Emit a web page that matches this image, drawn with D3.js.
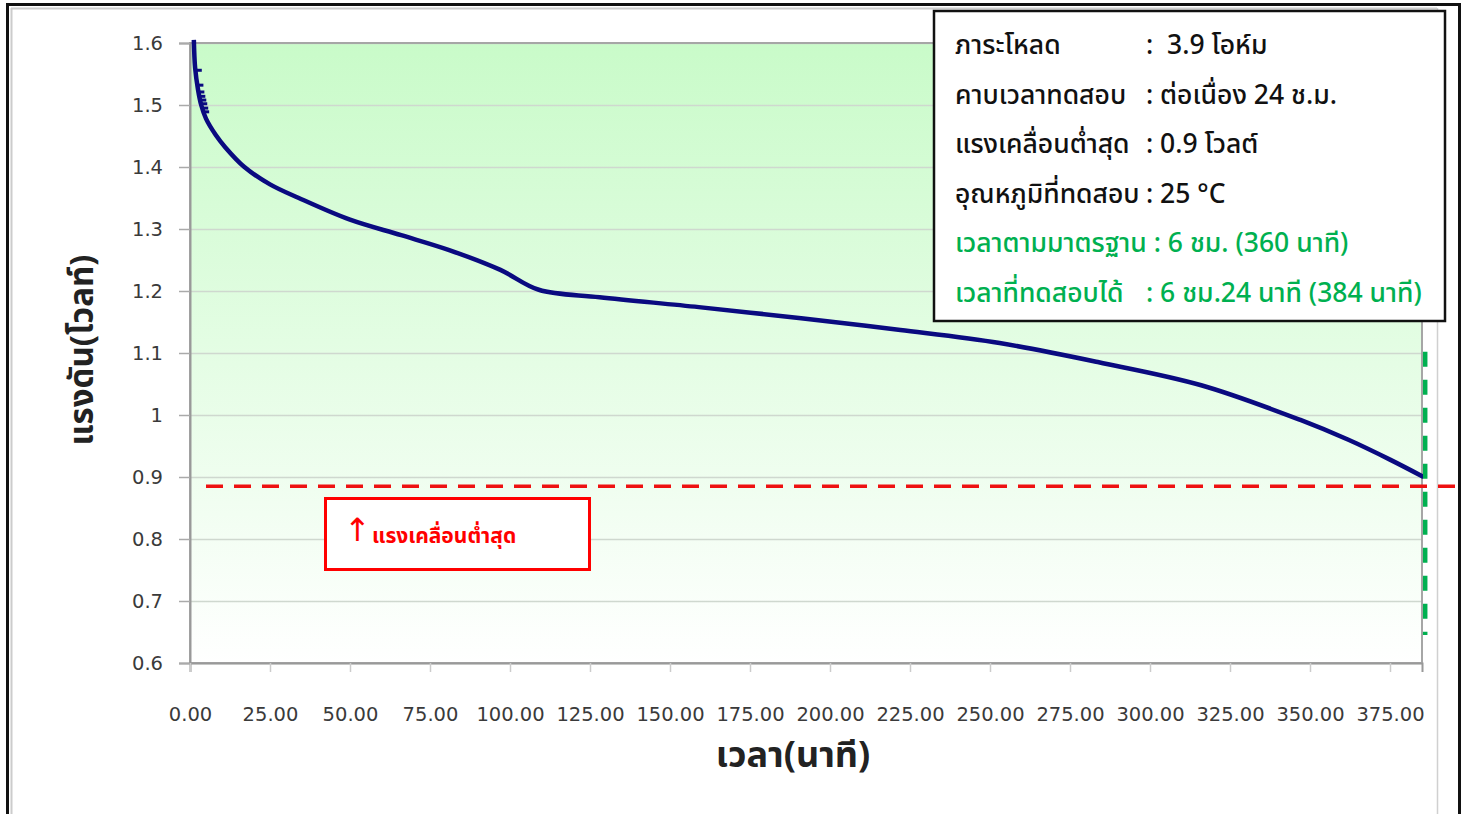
<!DOCTYPE html>
<html lang="th">
<head>
<meta charset="UTF-8">
<title>Discharge curve</title>
<script src="https://d3js.org/d3.v7.min.js"></script>
<style>
    body { margin: 0; background: #fff; }
    .tick text { font-family: "DejaVu Sans", Verdana, sans-serif; font-size: 19.5px; fill: #3a3a3a; }
    .thai { font-family: "Noto Sans Thai", "Noto Sans Thai UI", "Loma", "Tlwg Typist", "Noto Sans", sans-serif; }
</style>
</head>
<body>
<svg width="1466" height="814"></svg>
<script>
// discharge data (minutes, volts)
const timeMin = [1.2, 1.6, 2.5, 3.5, 5, 8, 11, 17, 25, 34, 50, 66, 81, 97, 109, 128, 159, 191, 222, 253, 284, 316, 347, 362, 375, 385.5];
const voltage = [1.605, 1.56, 1.525, 1.50, 1.478, 1.452, 1.432, 1.40, 1.372, 1.350, 1.315, 1.29, 1.266, 1.234, 1.202, 1.19, 1.174, 1.156, 1.137, 1.116, 1.085, 1.048, 0.992, 0.96, 0.928, 0.90];

// little flat steps at the very start of the trace
const stepT = [1.5, 2.0, 2.3, 2.6, 2.9, 3.2, 3.5, 3.8];
const stepV = [1.556, 1.532, 1.521, 1.514, 1.508, 1.502, 1.495, 1.489];

const xTicks = d3.range(0, 376, 25);
const yTicks = [0.6, 0.7, 0.8, 0.9, 1, 1.1, 1.2, 1.3, 1.4, 1.5, 1.6];

const minVolt = 0.885;       // red cut-off line
const testedMin = 386;       // green marker
const greenSpan = [1.102, 0.645];

const infoLabels = ["ภาระโหลด", "คาบเวลาทดสอบ", "แรงเคลื่อนต่ำสุด", "อุณหภูมิที่ทดสอบ", "เวลาตามมาตรฐาน : 6 ชม. (360 นาที)", "เวลาที่ทดสอบได้"];
const infoValues = [":  3.9 โอห์ม", ": ต่อเนื่อง 24 ช.ม.", ": 0.9 โวลต์", ": 25 °C", "", ": 6 ชม.24 นาที (384 นาที)"];
const infoGreen = [false, false, false, false, true, true];

const svg = d3.select("svg");
const W = 1466, H = 814;
const m = {left: 190, right: 1422, top: 43, bottom: 663};

const x = d3.scaleLinear().domain([0, 385]).range([m.left, m.right]);
const y = d3.scaleLinear().domain([0.6, 1.6]).range([m.bottom, m.top]);

// outer frame
svg.append("rect").attr("x", 7.5).attr("y", 4.5).attr("width", 1452).attr("height", 830)
    .attr("fill", "none").attr("stroke", "#111").attr("stroke-width", 3);
svg.append("line").attr("x1", 11.5).attr("x2", 11.5).attr("y1", 8).attr("y2", H).attr("stroke", "#ccc").attr("stroke-width", 2);
svg.append("line").attr("x1", 11).attr("x2", 1437).attr("y1", 8.5).attr("y2", 8.5).attr("stroke", "#ccc").attr("stroke-width", 2);
svg.append("line").attr("x1", 1437.5).attr("x2", 1437.5).attr("y1", 8).attr("y2", H).attr("stroke", "#d0d0d0").attr("stroke-width", 1.5);

// plot background gradient
const grad = svg.append("defs").append("linearGradient").attr("id", "bg")
    .attr("x1", 0).attr("y1", 0).attr("x2", 0).attr("y2", 1);
grad.append("stop").attr("offset", "0%").attr("stop-color", "#c9fbc9");
grad.append("stop").attr("offset", "100%").attr("stop-color", "#ffffff");
svg.append("rect").attr("x", m.left).attr("y", m.top)
    .attr("width", m.right - m.left).attr("height", m.bottom - m.top).attr("fill", "url(#bg)");

// gridlines
svg.append("g").attr("transform", `translate(${m.left},0)`)
    .call(d3.axisLeft(y).tickValues(yTicks).tickSize(-(m.right - m.left)).tickFormat(""))
    .call(g => g.select(".domain").remove())
    .call(g => g.selectAll("line").attr("stroke", "#cfd8cf").attr("stroke-width", 1.5));

// plot border (top / right)
svg.append("rect").attr("x", m.left).attr("y", m.top)
    .attr("width", m.right - m.left).attr("height", m.bottom - m.top)
    .attr("fill", "none").attr("stroke", "#a6a6a6").attr("stroke-width", 2);

// y axis
svg.append("g").attr("transform", `translate(${m.left},0)`)
    .call(d3.axisLeft(y).tickValues(yTicks).tickSize(11).tickPadding(16).tickFormat(d3.format("")))
    .call(g => g.select(".domain").attr("stroke", "#999").attr("stroke-width", 2))
    .call(g => g.selectAll(".tick line").attr("stroke", "#aaa").attr("stroke-width", 1.5));

// x axis
svg.append("g").attr("transform", `translate(0,${m.bottom})`)
    .call(d3.axisBottom(x).tickValues(xTicks).tickSize(9).tickPadding(35).tickFormat(d3.format(".2f")))
    .call(g => g.select(".domain").attr("stroke", "#999").attr("stroke-width", 2))
    .call(g => g.selectAll(".tick line").attr("stroke", "#ccc").attr("stroke-width", 1.5));

// axis titles
svg.append("text").attr("class", "thai").attr("transform", "translate(93,350) rotate(-90)")
    .attr("text-anchor", "middle").attr("font-size", 33).attr("font-weight", "bold").attr("fill", "#222")
    .text("แรงดัน(โวลท์)");
svg.append("text").attr("class", "thai").attr("x", 793).attr("y", 767)
    .attr("text-anchor", "middle").attr("font-size", 36).attr("font-weight", "bold").attr("fill", "#222")
    .text("เวลา(นาที)");

// discharge curve
const pts = timeMin.map((t, i) => [t, voltage[i]]);
const line = d3.line().x(d => x(d[0])).y(d => y(d[1])).curve(d3.curveCatmullRom.alpha(0.5));
svg.append("path").datum(pts).attr("d", line)
    .attr("fill", "none").attr("stroke", "#0a0a80").attr("stroke-width", 4.5).attr("stroke-linejoin", "round");

svg.append("g").selectAll("line").data(stepT.map((t, i) => [t, stepV[i]])).join("line")
    .attr("x1", d => x(d[0])).attr("x2", d => x(d[0]) + 7)
    .attr("y1", d => y(d[1])).attr("y2", d => y(d[1]))
    .attr("stroke", "#0a0a80").attr("stroke-width", 3);

// red cut-off line
svg.append("line").attr("x1", x(5)).attr("x2", W + 5).attr("y1", y(minVolt)).attr("y2", y(minVolt))
    .attr("stroke", "#ee1111").attr("stroke-width", 3.5).attr("stroke-dasharray", "17 11");

// green end marker
svg.append("line").attr("x1", x(testedMin)).attr("x2", x(testedMin))
    .attr("y1", y(greenSpan[0])).attr("y2", y(greenSpan[1]))
    .attr("stroke", "#00b050").attr("stroke-width", 4.5).attr("stroke-dasharray", "15 13");

// red note box
svg.append("rect").attr("x", 325.5).attr("y", 498.5).attr("width", 264).attr("height", 71)
    .attr("fill", "#fff").attr("stroke", "#f00").attr("stroke-width", 3);
svg.append("text").attr("x", 344).attr("y", 541)
    .attr("font-family", "DejaVu Sans, sans-serif").attr("font-size", 32).attr("fill", "#f00")
    .text("↑");
svg.append("text").attr("class", "thai").attr("x", 372).attr("y", 543)
    .attr("font-size", 21).attr("font-weight", "bold").attr("fill", "#f00")
    .text("แรงเคลื่อนต่ำสุด");

// info box
svg.append("rect").attr("x", 934).attr("y", 11).attr("width", 511).attr("height", 310)
    .attr("fill", "#fff").attr("stroke", "#111").attr("stroke-width", 2.5);
const info = svg.append("g").attr("class", "thai").attr("font-size", 26.5).attr("font-weight", 500);
infoLabels.forEach((lab, i) => {
    const yy = 54 + i * 49.5;
    const col = infoGreen[i] ? "#00b050" : "#111";
    info.append("text").attr("x", 955).attr("y", yy).attr("fill", col).text(lab);
    if (infoValues[i]) info.append("text").attr("x", 1146).attr("y", yy).attr("fill", col).attr("xml:space", "preserve").style("white-space", "pre").text(infoValues[i]);
});
</script>
</body>
</html>
